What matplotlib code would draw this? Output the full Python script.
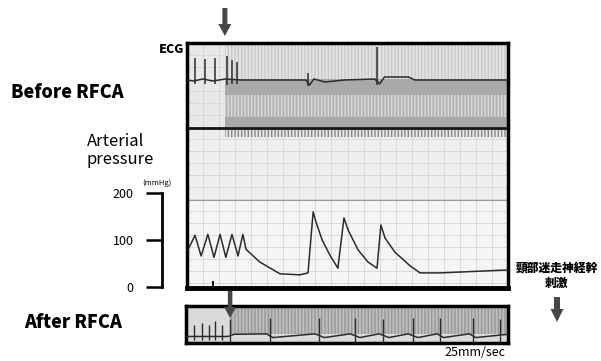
import matplotlib
matplotlib.use('Agg')
import numpy as np
import matplotlib.pyplot as plt
from matplotlib.patches import FancyArrow, Rectangle

W, H = 601, 361
plt.rcParams['font.family'] = ['Noto Sans CJK JP', 'DejaVu Sans']
plt.rcParams['hatch.linewidth'] = 1.0

# ---- data (time in s, 25 mm/sec paper) ----
t_end = 10.0
stim_on_before = 1.18      # vagal stimulation starts (before RFCA)
stim_on_after = 1.37       # vagal stimulation starts (after RFCA)
marker_t = 0.81

# ECG before RFCA: R spikes and S dips (mV)
ecg_pre_beats = [0.25, 0.56, 0.87, 1.25, 1.40, 1.56, 3.77, 5.92]
ecg_pre_amp = [1.10, 1.05, 1.10, 1.20, 1.00, 0.90, 0.35, 1.65]
ecg_pre_dip = [-0.20, -0.20, -0.20, -0.25, -0.20, -0.20, -0.30, -0.25]
ecg_pre_base_t = [0.0, 0.2, 0.5, 0.8, 1.2, 1.7, 3.70, 3.82, 3.95, 4.30, 4.90, 5.85, 6.00, 6.15, 6.90, 7.10, 10.0]
ecg_pre_base_mv = [0.0, -0.05, 0.05, -0.05, 0.05, 0.0, 0.0, -0.25, 0.05, -0.10, 0.0, 0.05, -0.20, 0.15, 0.15, 0.0, 0.0]

# Arterial pressure before RFCA (mmHg)
bp_t = [0.03, 0.25, 0.44, 0.65, 0.84, 1.03, 1.21, 1.40, 1.59, 1.74, 1.84, 2.27, 2.90, 3.52,
        3.77, 3.93, 4.02, 4.21, 4.45, 4.70, 4.89, 5.02, 5.33, 5.64, 5.92, 6.04, 6.17, 6.48,
        6.95, 7.26, 7.88, 9.91, 10.0]
bp_mmhg = [79, 110, 66, 112, 63, 112, 63, 112, 66, 112, 80, 53, 28, 26,
           30, 160, 138, 100, 68, 40, 147, 121, 79, 53, 40, 132, 104, 74,
           45, 30, 30, 36, 36]
bp_ticks = [0, 100, 200]

# ECG after RFCA
ecg_post_beats = [0.25, 0.50, 0.72, 0.90, 1.12, 1.37, 2.62, 4.14, 5.26, 6.11, 7.04, 7.88, 8.91, 9.75]
ecg_post_amp = [0.55, 0.60, 0.55, 0.70, 0.55, 0.80, 0.85, 0.85, 0.85, 0.80, 0.85, 0.85, 0.85, 0.80]
ecg_post_dip = [-0.15] * 5 + [-0.25] * 9
ecg_post_base_t = [0.0, 1.3, 1.5, 2.5, 2.7, 4.0, 4.3, 5.1, 5.4, 6.0, 6.3, 6.9, 7.2, 7.8, 8.0, 8.8, 9.0, 10.0]
ecg_post_base_mv = [0.0, 0.0, 0.10, 0.12, -0.05, 0.12, -0.05, 0.12, -0.05, 0.12, -0.05, 0.12, -0.05, 0.12, -0.05, 0.12, -0.05, 0.10]

trace = '#2b2b2b'

fig = plt.figure(figsize=(W / 100, H / 100), dpi=100)


def px_axes(x0, y0, x1, y1):
    return fig.add_axes([x0 / W, 1 - y1 / H, (x1 - x0) / W, (y1 - y0) / H])


def px_text(x, y, s, **kw):
    fig.text(x / W, 1 - y / H, s, **kw)


# ---- upper recording (before RFCA) ----
ax_top = px_axes(187, 43, 508, 288)
ax_top.set_xlim(0, t_end)
ax_top.set_ylim(288, 43)          # rows of the chart paper
ax_top.set_facecolor('#ececec')
ax_top.set_xticks(np.arange(0, t_end + 0.01, 0.5))
ax_top.set_yticks(np.arange(43, 288, 12))
ax_top.tick_params(length=0, labelbottom=False, labelleft=False)
ax_top.grid(True, color='#d6d6d6', lw=0.6)
ax_top.set_axisbelow(True)
for s in ax_top.spines.values():
    s.set_linewidth(2.5)
ax_top.spines['bottom'].set_linewidth(3.5)


def band(ax, t0, t1, y0, y1, fc, hatch=None, hc=None, z=0.2):
    ax.add_patch(Rectangle((t0, y0), t1 - t0, y1 - y0, facecolor=fc, edgecolor=hc or fc,
                           hatch=hatch, lw=0, zorder=z))


band(ax_top, 0, t_end, 200, 288, '#f5f5f5')
band(ax_top, 0, t_end, 137, 200, '#efefef')
band(ax_top, 0, stim_on_before, 43, 128, '#e8e8e8')
band(ax_top, stim_on_before, t_end, 43, 79, '#e4e4e4', '|||||', '#c8c8c8', z=1)
band(ax_top, stim_on_before, t_end, 79, 127, '#a9a9a9', z=1)
band(ax_top, stim_on_before, t_end, 95, 117, '#b3b3b3', '|||||', '#dcdcdc', z=1.1)
band(ax_top, stim_on_before, t_end, 130, 137, '#e6e6e6', '|||||', '#8a8a8a', z=1)
ax_top.axhline(128, color='#141414', lw=2.0, zorder=2)
ax_top.axhline(200, color='#9a9a9a', lw=0.8, zorder=2)
ax_top.vlines(marker_t, 281, 288, color='#111111', lw=1.5, zorder=2)

ax_ecg = px_axes(187, 44, 508, 128)
ax_ecg.set_xlim(0, t_end)
ax_ecg.set_ylim(-2.4, 1.8)
ax_ecg.axis('off')
ax_ecg.plot(ecg_pre_base_t, ecg_pre_base_mv, color=trace, lw=1.1)
ax_ecg.vlines(ecg_pre_beats, 0, ecg_pre_amp, color=trace, lw=1.1)
ax_ecg.vlines(ecg_pre_beats, ecg_pre_dip, 0, color=trace, lw=1.1)

ax_bp = px_axes(187, 193, 508, 287)
ax_bp.set_xlim(0, t_end)
ax_bp.set_ylim(0, 200)
ax_bp.patch.set_visible(False)
for k in ['top', 'right', 'bottom']:
    ax_bp.spines[k].set_visible(False)
ax_bp.spines['left'].set_position(('outward', 18))
ax_bp.spines['left'].set_bounds(0, 200)
ax_bp.spines['left'].set_linewidth(2.0)
ax_bp.set_xticks([])
ax_bp.set_yticks(bp_ticks)
ax_bp.tick_params(axis='y', direction='out', length=11.5, width=1.8, pad=9, labelsize=9)
ax_bp.plot(bp_t, bp_mmhg, color=trace, lw=1.1)

# ---- lower recording (after RFCA) ----
ax_bot = px_axes(186, 306, 508, 343)
ax_bot.set_xlim(0, t_end)
ax_bot.set_ylim(343, 306)
ax_bot.set_facecolor('#dadada')
ax_bot.set_xticks([])
ax_bot.set_yticks([])
for s in ax_bot.spines.values():
    s.set_linewidth(2.5)
band(ax_bot, stim_on_after, t_end, 308, 334, '#bebebe', '|||||', '#989898', z=1)

ax_ecg2 = px_axes(186, 306, 508, 343)
ax_ecg2.set_xlim(0, t_end)
ax_ecg2.set_ylim(-0.3, 1.4)
ax_ecg2.axis('off')
ax_ecg2.plot(ecg_post_base_t, ecg_post_base_mv, color=trace, lw=1.1)
ax_ecg2.vlines(ecg_post_beats, 0, ecg_post_amp, color=trace, lw=1.0)
ax_ecg2.vlines(ecg_post_beats, ecg_post_dip, 0, color=trace, lw=1.0)

# ---- arrows ----
ax_fg = fig.add_axes([0, 0, 1, 1])
ax_fg.set_xlim(0, W)
ax_fg.set_ylim(H, 0)
ax_fg.axis('off')
fig.canvas.draw()
x_top = ax_ecg.transData.transform((stim_on_before, 0))[0]
x_bot = ax_ecg2.transData.transform((stim_on_after, 0))[0]
arrow_c = '#474747'
ax_fg.add_patch(FancyArrow(x_top, 8, 0, 28, width=5, head_width=13, head_length=12,
                           length_includes_head=True, color=arrow_c, lw=0))
ax_fg.add_patch(FancyArrow(x_bot, 291, 0, 27, width=4.5, head_width=12, head_length=11,
                           length_includes_head=True, color=arrow_c, lw=0))
ax_fg.add_patch(FancyArrow(557, 297, 0, 25, width=6, head_width=13, head_length=13,
                           length_includes_head=True, color=arrow_c, lw=0))

# ---- labels ----
px_text(11, 93, 'Before RFCA', fontsize=13, fontweight='heavy', va='center', ha='left')
px_text(24, 323, 'After RFCA', fontsize=13, fontweight='heavy', va='center', ha='left')
px_text(184, 49, 'ECG', fontsize=9, fontweight='heavy', va='center', ha='right')
px_text(116, 142, 'Arterial', fontsize=12, va='center', ha='center')
px_text(120, 160, 'pressure', fontsize=12, va='center', ha='center')
px_text(157, 183, '(mmHg)', fontsize=5.5, va='center', ha='center')
px_text(557, 268, '頸部迷走神経幹', fontsize=8.5, fontweight='heavy', va='center', ha='center')
px_text(557, 283, '刺激', fontsize=8.5, fontweight='heavy', va='center', ha='center')
px_text(475, 352, '25mm/sec', fontsize=9, va='center', ha='center')

fig.savefig('out.png', dpi=100)
